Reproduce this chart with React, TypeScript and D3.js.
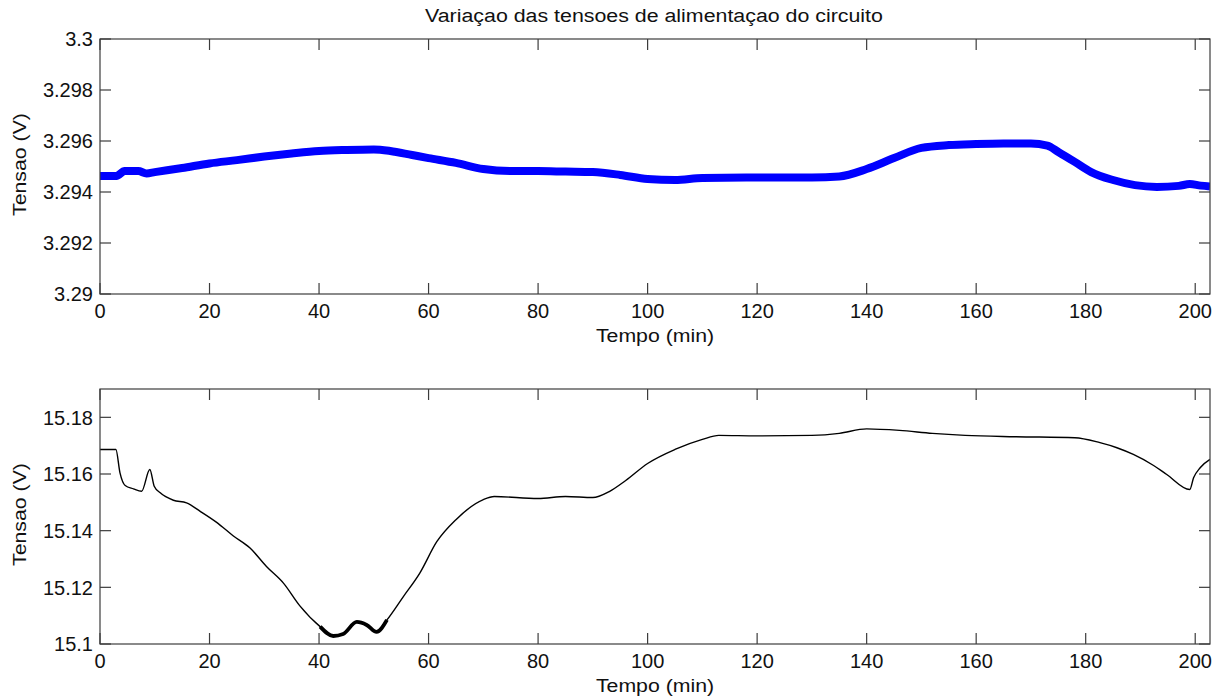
import React from "react";
import * as d3 from "d3";

// ---------- data ----------
const titleText = "Variaçao das tensoes de alimentaçao do circuito";
const xLabel = "Tempo (min)";
const yLabel = "Tensao (V)";

const xTicks = [0, 20, 40, 60, 80, 100, 120, 140, 160, 180, 200];
const topYTicks = [3.29, 3.292, 3.294, 3.296, 3.298, 3.3];
const topYTickLabels = ["3.29", "3.292", "3.294", "3.296", "3.298", "3.3"];
const botYTicks = [15.1, 15.12, 15.14, 15.16, 15.18];
const botYTickLabels = ["15.1", "15.12", "15.14", "15.16", "15.18"];

// 3.3V supply (time in min, voltage)
const topT = [0, 3, 4.5, 7, 8.5, 10, 15, 20, 25, 30, 35, 40, 45, 50, 53, 57, 60, 65, 70, 75, 80, 85, 90, 95, 100, 105, 110, 120, 130, 135, 140, 145, 150, 155, 160, 165, 170, 173, 175, 178, 181, 185, 189, 193, 197, 199, 201, 202.7];
const topV = [3.29463, 3.29463, 3.29482, 3.29482, 3.29473, 3.29478, 3.29494, 3.29512, 3.29525, 3.29539, 3.29551, 3.29561, 3.29565, 3.29567, 3.29561, 3.29545, 3.29533, 3.29514, 3.2949, 3.29482, 3.29482, 3.2948, 3.29478, 3.29467, 3.29451, 3.29447, 3.29455, 3.29457, 3.29457, 3.29461, 3.2949, 3.29533, 3.29573, 3.29584, 3.29588, 3.2959, 3.2959, 3.29582, 3.29557, 3.29518, 3.29478, 3.29447, 3.29427, 3.2942, 3.29424, 3.29431, 3.29425, 3.29422];

// 15V supply (time in min, voltage)
const botT = [0, 2.9, 3.65, 4.6, 6.1, 7.6, 9.1, 9.9, 11, 13.4, 15.8, 18.3, 21.3, 24.3, 27.4, 30.4, 33.5, 36.5, 40.2, 42.6, 44.4, 46.9, 48.7, 50.5, 52.4, 55.4, 58.4, 61.5, 65, 70, 72, 80, 85, 90, 93, 96, 100, 105, 110, 113, 120, 130, 135, 140, 146, 152, 158, 167, 178, 182.6, 185.7, 188.7, 192.4, 194.8, 199, 199.7, 200.9, 202.7];
const botV = [15.16867, 15.16867, 15.16042, 15.15593, 15.15476, 15.15391, 15.16159, 15.15568, 15.15335, 15.15073, 15.14981, 15.14683, 15.14294, 15.13823, 15.13388, 15.12736, 15.12149, 15.11345, 15.10612, 15.10283, 15.10354, 15.10779, 15.10673, 15.10425, 15.1085, 15.11674, 15.12503, 15.13611, 15.14389, 15.15097, 15.15204, 15.15133, 15.15204, 15.15168, 15.15381, 15.1577, 15.16372, 15.16867, 15.17221, 15.17363, 15.17345, 15.17363, 15.17434, 15.17593, 15.1754, 15.17434, 15.17363, 15.17317, 15.17282, 15.17105, 15.16927, 15.1669, 15.16301, 15.15982, 15.15451, 15.15866, 15.1622, 15.16513];

// ---------- layout ----------
const W = 1225;
const H = 700;
const left = 100;
const right = 1210;
const xDomain: [number, number] = [0, 202.7];
const FONT = "'Liberation Sans', Arial, sans-serif";
const AX = "#3c3c3c";
const TICK = 11;

type PanelProps = {
  top: number;
  bottom: number;
  domain: [number, number];
  yTicks: number[];
  yTickLabels: string[];
  t: number[];
  v: number[];
  color: string;
  width: number;
  noisyRange?: [number, number];
};

function Panel(p: PanelProps) {
  const x = d3.scaleLinear().domain(xDomain).range([left, right]);
  const y = d3.scaleLinear().domain(p.domain).range([p.bottom, p.top]);
  const pts: [number, number][] = p.t.map((tt, i) => [tt, p.v[i]]);
  const line = d3
    .line<[number, number]>()
    .x((d) => x(d[0]))
    .y((d) => y(d[1]))
    .curve(d3.curveMonotoneX);
  const noisy = p.noisyRange
    ? pts.filter((d) => d[0] >= p.noisyRange![0] && d[0] <= p.noisyRange![1])
    : null;
  const cx = (left + right) / 2;
  const cy = (p.top + p.bottom) / 2;
  return (
    <g>
      <defs>
        <clipPath id={`clip${p.top}`}>
          <rect x={left} y={p.top} width={right - left} height={p.bottom - p.top} />
        </clipPath>
      </defs>
      <g clipPath={`url(#clip${p.top})`}>
        <path d={line(pts) || ""} fill="none" stroke={p.color} strokeWidth={p.width} strokeLinejoin="round" />
        {noisy && (
          <path d={line(noisy) || ""} fill="none" stroke={p.color} strokeWidth={3.8} strokeLinejoin="round" />
        )}
      </g>
      <rect x={left} y={p.top} width={right - left} height={p.bottom - p.top} fill="none" stroke={AX} strokeWidth={1.2} />
      {xTicks.map((t) => (
        <g key={"x" + t}>
          <line x1={x(t)} x2={x(t)} y1={p.bottom} y2={p.bottom - TICK} stroke={AX} strokeWidth={1.2} />
          <line x1={x(t)} x2={x(t)} y1={p.top} y2={p.top + TICK} stroke={AX} strokeWidth={1.2} />
          <text x={x(t)} y={p.bottom + 24} textAnchor="middle" fontSize={20} fontFamily={FONT} fill="#111">
            {t}
          </text>
        </g>
      ))}
      {p.yTicks.map((v, i) => (
        <g key={"y" + v}>
          <line x1={left} x2={left + TICK} y1={y(v)} y2={y(v)} stroke={AX} strokeWidth={1.2} />
          <line x1={right} x2={right - TICK} y1={y(v)} y2={y(v)} stroke={AX} strokeWidth={1.2} />
          <text x={left - 7} y={y(v)} dy="0.36em" textAnchor="end" fontSize={20} fontFamily={FONT} fill="#111">
            {p.yTickLabels[i]}
          </text>
        </g>
      ))}
      <text
        transform={`translate(${cx},${p.bottom + 48}) scale(1.12,1)`}
        textAnchor="middle"
        fontSize={19}
        fontFamily={FONT}
        fill="#111"
      >
        {xLabel}
      </text>
      <text
        transform={`translate(26,${cy - 2}) rotate(-90) scale(1.12,1)`}
        textAnchor="middle"
        fontSize={19}
        fontFamily={FONT}
        fill="#111"
      >
        {yLabel}
      </text>
    </g>
  );
}

export default function App() {
  return (
    <svg width={W} height={H} style={{ position: "absolute", left: 0, top: 0, background: "#fff" }}>
      <rect x={0} y={0} width={W} height={H} fill="#fff" />
      <text
        transform={`translate(${(left + right) / 2 - 1},22) scale(1.2,1)`}
        textAnchor="middle"
        fontSize={17.8}
        fontFamily={FONT}
        fill="#111"
      >
        {titleText}
      </text>
      <Panel top={39} bottom={294} domain={[3.29, 3.3]} yTicks={topYTicks} yTickLabels={topYTickLabels} t={topT} v={topV} color="#0000ff" width={8} />
      <Panel top={389} bottom={644} domain={[15.1, 15.19]} yTicks={botYTicks} yTickLabels={botYTickLabels} t={botT} v={botV} color="#000" width={1.4} noisyRange={[39, 52.5]} />
    </svg>
  );
}
